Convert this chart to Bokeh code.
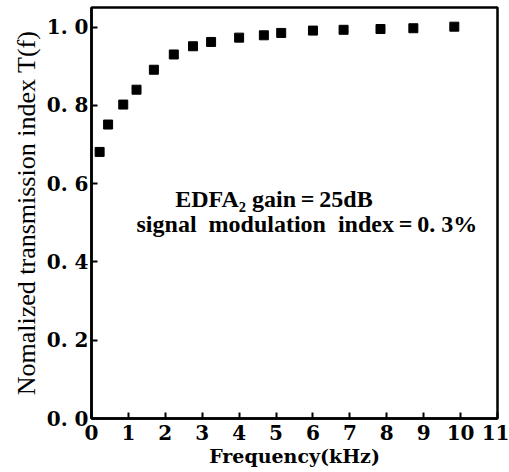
from bokeh.plotting import figure
from bokeh.embed import file_html
from bokeh.resources import INLINE
from bokeh.models import Range1d, FixedTicker, Label

# Data
freq_khz = [0.22, 0.45, 0.86, 1.22, 1.69, 2.23, 2.75, 3.24, 4.0, 4.67, 5.14, 6.0, 6.83, 7.83, 8.72, 9.83]
trans_idx = [0.681, 0.751, 0.802, 0.840, 0.891, 0.930, 0.951, 0.962, 0.973, 0.979, 0.985, 0.991, 0.993, 0.995, 0.997, 1.001]

x_ticks = [0, 1, 2, 3, 4, 5, 6, 7, 8, 9, 10, 11]
x_tick_labels = {t: str(t) for t in x_ticks}
y_ticks = [0.0, 0.2, 0.4, 0.6, 0.8, 1.0]
y_tick_labels = {0.0: "0. 0", 0.2: "0. 2", 0.4: "0. 4", 0.6: "0. 6", 0.8: "0. 8", 1.0: "1. 0"}

TICK_FONT = "DejaVu Serif"
LABEL_FONT = "Liberation Serif"

p = figure(width=509, height=470, output_backend="svg", toolbar_location=None,
           x_range=Range1d(0, 11), y_range=Range1d(0, 1.050),
           min_border_left=91, min_border_right=12, min_border_top=7, min_border_bottom=52)

p.scatter(freq_khz, trans_idx, marker="square", size=9, color="black")

p.grid.visible = False
p.outline_line_color = "black"
p.outline_line_width = 2.5
p.background_fill_color = "white"
p.border_fill_color = "white"

for ax in (p.xaxis[0], p.yaxis[0]):
    ax.axis_line_width = 2.5
    ax.major_tick_line_width = 2
    ax.major_tick_in = 6
    ax.major_tick_out = 0
    ax.minor_tick_line_color = None
    ax.major_label_text_font = TICK_FONT
    ax.major_label_text_font_style = "bold"
    ax.major_label_text_font_size = "20px"
    ax.major_label_text_color = "black"
    ax.axis_label_text_color = "black"

p.xaxis.ticker = FixedTicker(ticks=x_ticks)
p.xaxis.major_label_overrides = x_tick_labels
p.yaxis.ticker = FixedTicker(ticks=y_ticks)
p.yaxis.major_label_overrides = y_tick_labels

p.xaxis.axis_label = "Frequency(kHz)"
p.xaxis.axis_label_text_font = TICK_FONT
p.xaxis.axis_label_text_font_style = "bold"
p.xaxis.axis_label_text_font_size = "19px"
p.xaxis.axis_label_standoff = 2
p.xaxis.major_label_standoff = 6

p.yaxis.axis_label = "Nomalized transmission index T(f)"
p.yaxis.axis_label_text_font = LABEL_FONT
p.yaxis.axis_label_text_font_style = "normal"
p.yaxis.axis_label_text_font_size = "26px"
p.yaxis.axis_label_standoff = 3
p.yaxis.major_label_standoff = 3

ANN_FONT = "Liberation Serif"
label1 = Label(x=2.27, y=0.560, text="EDFA\u2082 gain\u2009=\u200925dB", text_font=ANN_FONT,
               text_font_style="bold", text_font_size="24px", text_baseline="alphabetic",
               text_color="black")
label2 = Label(x=1.22, y=0.496, text="signal\u2002modulation\u2002index\u2009=\u20090. 3%",
               text_font=ANN_FONT, text_font_style="bold", text_font_size="24px",
               text_baseline="alphabetic", text_color="black")
p.add_layout(label1)
p.add_layout(label2)

open("out.html", "w").write(file_html(p, INLINE))
